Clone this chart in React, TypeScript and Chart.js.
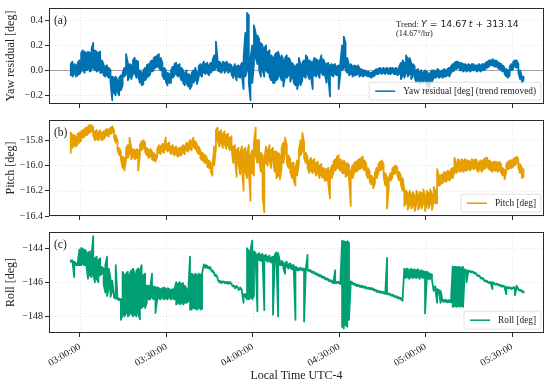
import { useEffect, useRef } from 'react';
import { Chart, registerables } from 'chart.js';

Chart.register(...registerables);

// ---- data ----
// every SAMPLE_STEP minutes (starting SAMPLE_START minutes after 03:00:00) the
// recorded signal's lower and upper envelope within that interval
const SAMPLE_START = -3.2;
const SAMPLE_STEP = 0.6;
const xTickMinutes = [180, 210, 240, 270, 300, 330]; // minutes since midnight
const yawTicks = [-0.2, 0, 0.2, 0.4];
const pitchTicks = [-16.4, -16.2, -16.0, -15.8];
const rollTicks = [-148, -146, -144];

const yawLow = [
  -0.04, -0.05, -0.03, -0.05, -0.04, -0.03, -0.01, 0.0, -0.02, 0.0,
  0.01, -0.01, 0.0, 0.02, 0.0, -0.01, 0.0, -0.02, -0.02, -0.04,
  -0.05, -0.04, -0.06, -0.1, -0.24, -0.18, -0.2, -0.17, -0.2, -0.16,
  -0.12, -0.05, -0.03, -0.08, -0.05, -0.07, -0.03, -0.02, -0.06, -0.05,
  -0.1, -0.12, -0.11, -0.08, -0.06, -0.05, -0.03, -0.01, 0.0, 0.02,
  0.03, 0.02, 0.0, -0.04, -0.07, -0.09, -0.12, -0.1, -0.1, -0.06,
  -0.04, -0.03, -0.05, -0.04, -0.08, -0.1, -0.12, -0.1, -0.13, -0.15,
  -0.12, -0.1, -0.08, -0.11, -0.06, -0.04, -0.05, -0.02, -0.03, -0.02,
  -0.04, -0.02, 0.0, 0.0, 0.02, 0.0, -0.01, -0.02, 0.0, -0.02,
  0.0, -0.02, -0.01, -0.03, -0.06, -0.04, -0.08, -0.05, -0.06, -0.04,
  -0.15, -0.05, 0.0, -0.1, -0.24, -0.1, 0.05, 0.1, 0.05, 0.0,
  -0.05, 0.0, -0.05, 0.0, -0.02, -0.05, -0.08, -0.1, -0.1, -0.08,
  -0.06, -0.04, -0.08, -0.13, -0.05, -0.06, -0.04, -0.09, -0.06, -0.1,
  -0.12, -0.15, -0.1, -0.12, -0.08, -0.05, -0.06, -0.03, -0.07, -0.05,
  -0.15, -0.04, -0.05, -0.03, -0.06, -0.02, -0.04, -0.03, -0.1, -0.05,
  -0.21, -0.04, -0.05, -0.03, -0.04, -0.15, -0.03, 0.0, 0.02, 0.0,
  -0.02, -0.04, -0.03, -0.05, -0.04, -0.04, -0.03, -0.05, -0.04, -0.05,
  -0.04, -0.04, -0.05, -0.05, -0.06, -0.05, -0.04, -0.03, -0.03, -0.02,
  -0.03, -0.02, -0.03, -0.02, -0.03, -0.03, -0.02, -0.03, -0.03, -0.04,
  -0.03, -0.07, -0.04, -0.06, -0.02, -0.05, -0.03, -0.07, -0.04, -0.06,
  -0.1, -0.08, -0.11, -0.09, -0.1, -0.08, -0.12, -0.15, -0.1, -0.09,
  -0.06, -0.06, -0.05, -0.06, -0.05, -0.06, -0.05, -0.05, -0.04, -0.05,
  -0.02, -0.01, 0.0, 0.01, 0.02, 0.0, 0.0, -0.01, 0.0, -0.01,
  0.0, -0.01, 0.0, 0.0, 0.0, -0.01, 0.0, -0.01, 0.0, 0.0,
  0.01, 0.02, 0.03, 0.04, 0.04, 0.03, 0.03, 0.02, 0.01, 0.0,
  -0.01, -0.03, -0.05, -0.06, -0.04, 0.0, 0.01, 0.03, 0.02, -0.02,
  -0.07, -0.1, -0.08,
];
const yawHigh = [
  0.05, 0.07, 0.05, 0.04, 0.06, 0.08, 0.14, 0.16, 0.15, 0.14,
  0.15, 0.14, 0.17, 0.22, 0.16, 0.15, 0.14, 0.15, 0.08, 0.05,
  0.03, 0.04, 0.02, 0.0, -0.05, -0.06, -0.05, -0.08, -0.06, -0.04,
  -0.02, 0.02, 0.13, 0.06, 0.05, 0.04, 0.08, 0.1, 0.08, 0.07,
  0.0, -0.02, 0.0, 0.02, 0.04, 0.05, 0.07, 0.08, 0.1, 0.11,
  0.12, 0.13, 0.1, 0.06, 0.02, 0.0, -0.02, -0.03, 0.0, 0.03,
  0.05, 0.06, 0.04, 0.05, 0.02, 0.0, -0.02, 0.0, -0.03, -0.04,
  -0.02, 0.0, 0.02, -0.02, 0.03, 0.05, 0.04, 0.07, 0.05, 0.06,
  0.04, 0.06, 0.08, 0.12, 0.23, 0.08, 0.07, 0.05, 0.07, 0.06,
  0.07, 0.05, 0.05, 0.04, 0.02, 0.05, 0.03, 0.04, 0.03, 0.06,
  0.1, 0.3, 0.46, 0.44, 0.1, 0.2, 0.36, 0.3, 0.28, 0.25,
  0.22, 0.2, 0.18, 0.2, 0.15, 0.16, 0.12, 0.1, 0.12, 0.14,
  0.15, 0.1, 0.12, 0.08, 0.1, 0.12, 0.1, 0.08, 0.06, 0.04,
  0.03, 0.05, 0.1, 0.04, 0.06, 0.08, 0.12, 0.1, 0.08, 0.07,
  0.06, 0.1, 0.09, 0.08, 0.07, 0.12, 0.09, 0.06, 0.05, 0.06,
  0.04, 0.05, 0.04, 0.05, 0.03, 0.04, 0.06, 0.2, 0.27, 0.22,
  0.1, 0.04, 0.05, 0.03, 0.04, 0.03, 0.04, 0.02, 0.01, 0.0,
  0.0, -0.01, -0.01, -0.02, -0.02, -0.01, 0.0, 0.01, 0.01, 0.02,
  0.01, 0.02, 0.01, 0.02, 0.01, 0.02, 0.02, 0.01, 0.02, 0.01,
  0.03, 0.06, 0.08, 0.06, 0.12, 0.09, 0.1, 0.06, 0.05, 0.03,
  0.0, 0.01, -0.01, 0.0, -0.02, 0.0, -0.01, -0.03, -0.02, 0.0,
  0.0, -0.01, 0.01, 0.0, -0.01, 0.0, 0.01, 0.0, 0.01, 0.02,
  0.03, 0.05, 0.06, 0.07, 0.07, 0.06, 0.06, 0.05, 0.05, 0.04,
  0.05, 0.04, 0.05, 0.05, 0.04, 0.04, 0.05, 0.04, 0.05, 0.05,
  0.06, 0.07, 0.08, 0.08, 0.09, 0.08, 0.08, 0.07, 0.06, 0.05,
  0.04, 0.02, 0.01, 0.0, 0.03, 0.05, 0.07, 0.08, 0.08, 0.05,
  0.0, -0.05, -0.05,
];

const pitchLow = [
  -15.90, -15.86, -15.84, -15.85, -15.83, -15.82, -15.80, -15.78, -15.77, -15.76,
  -15.75, -15.74, -15.73, -15.76, -15.80, -15.79, -15.80, -15.78, -15.80, -15.79,
  -15.77, -15.76, -15.77, -15.75, -15.74, -15.78, -15.82, -15.87, -15.92, -15.95,
  -16.02, -16.04, -15.95, -15.94, -15.90, -15.95, -15.93, -15.95, -15.94, -16.04,
  -15.92, -15.88, -15.86, -15.89, -15.92, -15.94, -15.93, -15.95, -15.96, -15.97,
  -15.93, -15.90, -15.91, -15.89, -15.90, -15.87, -15.89, -15.88, -15.91, -15.90,
  -15.92, -15.91, -15.93, -15.92, -15.92, -15.90, -15.91, -15.88, -15.89, -15.87,
  -15.88, -15.85, -15.87, -15.89, -15.91, -15.94, -15.96, -15.97, -15.98, -16.01,
  -16.02, -16.05, -16.08, -16.00, -15.86, -15.80, -15.85, -15.82, -15.86, -15.83,
  -15.87, -15.84, -15.88, -15.86, -15.98, -15.95, -16.09, -15.98, -16.07, -16.02,
  -16.20, -16.05, -16.10, -16.04, -16.28, -16.06, -16.08, -15.92, -15.98, -15.96,
  -16.05, -16.25, -16.37, -15.98, -16.00, -15.96, -16.02, -15.96, -16.05, -16.10,
  -16.08, -16.11, -16.02, -15.98, -15.90, -15.98, -16.02, -16.05, -16.10, -16.12,
  -16.16, -16.08, -15.98, -15.92, -15.88, -15.94, -15.98, -16.02, -16.06, -16.04,
  -16.06, -16.04, -16.08, -16.06, -16.10, -16.08, -16.10, -16.12, -16.12, -16.14,
  -16.26, -16.10, -16.06, -16.04, -16.02, -16.02, -16.04, -16.06, -16.06, -16.09,
  -16.08, -16.10, -16.32, -16.10, -16.06, -16.05, -16.04, -16.03, -16.02, -16.02,
  -16.04, -16.07, -16.10, -16.13, -16.15, -16.18, -16.14, -16.10, -16.06, -16.04,
  -16.03, -16.08, -16.16, -16.34, -16.18, -16.12, -16.10, -16.07, -16.06, -16.08,
  -16.12, -16.15, -16.20, -16.32, -16.30, -16.35, -16.31, -16.34, -16.32, -16.36,
  -16.30, -16.35, -16.32, -16.34, -16.30, -16.36, -16.31, -16.34, -16.30, -16.35,
  -16.28, -16.30, -16.30, -16.16, -16.15, -16.14, -16.12, -16.13, -16.11, -16.12,
  -16.10, -16.10, -16.05, -16.06, -16.04, -16.05, -16.04, -16.05, -16.04, -16.04,
  -16.03, -16.04, -16.02, -16.03, -16.02, -16.04, -16.05, -16.03, -16.05, -16.03,
  -16.02, -16.01, -16.03, -16.04, -16.05, -16.04, -16.04, -16.05, -16.04, -16.06,
  -16.08, -16.11, -16.05, -16.03, -16.02, -16.02, -16.01, -16.00, -15.98, -16.02,
  -16.06, -16.10, -16.09,
];
const pitchHigh = [
  -15.74, -15.76, -15.76, -15.77, -15.75, -15.74, -15.73, -15.72, -15.71, -15.70,
  -15.69, -15.68, -15.68, -15.70, -15.73, -15.72, -15.74, -15.72, -15.74, -15.73,
  -15.72, -15.71, -15.72, -15.70, -15.69, -15.72, -15.76, -15.80, -15.86, -15.89,
  -15.93, -15.94, -15.86, -15.84, -15.78, -15.86, -15.87, -15.88, -15.87, -15.88,
  -15.84, -15.81, -15.80, -15.82, -15.86, -15.88, -15.87, -15.89, -15.90, -15.92,
  -15.87, -15.84, -15.85, -15.83, -15.84, -15.78, -15.83, -15.82, -15.85, -15.84,
  -15.86, -15.85, -15.87, -15.86, -15.86, -15.84, -15.85, -15.82, -15.83, -15.80,
  -15.81, -15.78, -15.81, -15.83, -15.85, -15.88, -15.90, -15.91, -15.92, -15.95,
  -15.96, -15.98, -16.00, -15.85, -15.72, -15.70, -15.74, -15.72, -15.75, -15.73,
  -15.76, -15.75, -15.78, -15.77, -15.85, -15.84, -15.88, -15.86, -15.90, -15.85,
  -15.88, -15.86, -15.90, -15.84, -15.92, -15.88, -15.82, -15.70, -15.80, -15.80,
  -15.90, -15.92, -15.95, -15.85, -15.88, -15.84, -15.88, -15.86, -15.89, -15.89,
  -15.90, -15.92, -15.86, -15.82, -15.78, -15.84, -15.92, -15.95, -15.98, -15.98,
  -16.02, -15.96, -15.88, -15.80, -15.74, -15.82, -15.90, -15.93, -15.96, -15.94,
  -15.96, -15.95, -15.98, -15.97, -16.00, -15.99, -16.02, -16.03, -16.03, -16.02,
  -16.05, -16.00, -15.97, -15.95, -15.93, -15.92, -15.95, -15.97, -15.96, -15.99,
  -15.98, -16.00, -16.05, -16.00, -15.98, -15.97, -15.96, -15.95, -15.94, -15.93,
  -15.96, -15.99, -16.02, -16.05, -16.08, -16.10, -16.06, -16.02, -15.99, -15.97,
  -15.96, -15.99, -16.06, -16.10, -16.10, -16.06, -16.03, -16.01, -16.00, -16.02,
  -16.05, -16.08, -16.10, -16.19, -16.20, -16.22, -16.20, -16.23, -16.21, -16.24,
  -16.20, -16.23, -16.21, -16.22, -16.19, -16.24, -16.20, -16.22, -16.19, -16.23,
  -16.17, -16.20, -16.03, -16.08, -16.08, -16.07, -16.05, -16.06, -16.04, -16.05,
  -16.03, -16.02, -15.94, -15.98, -15.95, -15.97, -15.95, -15.96, -15.95, -15.96,
  -15.96, -15.97, -15.95, -15.96, -15.95, -15.96, -15.98, -15.96, -15.97, -15.95,
  -15.94, -15.94, -15.96, -15.97, -15.98, -15.97, -15.97, -15.98, -15.97, -15.99,
  -16.02, -16.04, -15.99, -15.97, -15.96, -15.96, -15.95, -15.94, -15.93, -15.95,
  -15.99, -16.02, -16.03,
];

const rollLow = [
  -144.80, -144.80, -145.70, -145.00, -145.00, -145.00, -145.00, -144.95, -145.00, -145.00,
  -145.80, -145.60, -145.70, -145.50, -146.00, -145.80, -146.00, -145.60, -145.50, -146.10,
  -146.60, -146.80, -146.40, -146.85, -146.50, -146.90, -146.95, -147.00, -147.05, -148.20,
  -147.90, -148.00, -147.80, -148.00, -147.90, -147.80, -148.00, -147.90, -148.00, -147.80,
  -148.17, -147.50, -147.40, -147.50, -147.20, -147.00, -147.00, -146.90, -147.00, -147.80,
  -147.00, -146.95, -147.00, -146.90, -147.00, -146.95, -147.00, -146.90, -147.00, -146.95,
  -147.00, -147.30, -147.20, -147.30, -147.20, -147.30, -147.20, -147.20, -147.10, -147.60,
  -147.60, -147.50, -147.55, -147.60, -147.50, -147.60, -147.55, -145.10, -145.15, -145.15,
  -145.20, -145.25, -145.40, -145.55, -145.65, -145.85, -146.00, -146.05, -146.00, -146.05,
  -146.05, -146.10, -146.05, -146.15, -146.25, -146.35, -146.30, -146.45, -146.40, -146.55,
  -147.20, -146.85, -147.00, -147.00, -146.90, -147.00, -146.80, -144.80, -147.70, -144.70,
  -144.75, -144.70, -147.63, -144.70, -144.80, -144.75, -144.85, -147.90, -144.80, -144.60,
  -148.00, -145.00, -145.00, -145.20, -145.50, -145.10, -145.20, -145.15, -145.25, -145.20,
  -148.20, -145.30, -145.30, -145.25, -145.30, -148.30, -145.35, -145.30, -145.35, -145.40,
  -145.45, -145.50, -145.55, -145.60, -145.65, -145.70, -145.75, -145.80, -145.85, -145.90,
  -145.95, -146.00, -146.05, -146.05, -146.05, -146.05, -146.10, -148.60, -148.70, -148.50,
  -148.60, -148.20, -146.05, -146.10, -146.15, -146.20, -146.22, -146.25, -146.28, -146.30,
  -146.33, -146.36, -146.38, -146.40, -146.42, -146.45, -146.50, -146.55, -146.58, -146.60,
  -146.62, -146.65, -146.68, -146.70, -146.72, -146.76, -146.80, -146.84, -146.88, -146.92,
  -146.96, -147.00, -147.08, -145.70, -145.75, -145.70, -145.80, -145.70, -145.75, -145.70,
  -145.75, -145.70, -145.80, -145.70, -145.75, -147.83, -145.75, -145.80, -145.80, -145.85,
  -146.50, -146.45, -147.20, -146.60, -147.20, -147.10, -147.15, -147.12, -147.18, -147.15,
  -147.18, -147.44, -147.40, -147.44, -147.40, -147.42, -147.40, -147.44, -145.40, -146.00,
  -145.38, -145.40, -145.42, -145.45, -145.50, -145.60, -145.65, -145.75, -145.80, -145.88,
  -145.95, -146.00, -146.05, -146.05, -146.40, -146.10, -146.15, -146.15, -146.20, -146.25,
  -146.25, -146.30, -146.70, -146.35, -146.35, -146.40, -146.35, -146.76, -146.30, -146.45,
  -146.50, -146.55, -146.60,
];
const rollHigh = [
  -144.72, -144.72, -144.80, -144.90, -144.88, -144.10, -144.00, -144.05, -144.10, -144.20,
  -144.30, -144.20, -144.40, -143.30, -144.60, -144.50, -144.70, -144.60, -145.10, -145.20,
  -145.00, -144.50, -145.20, -145.80, -145.90, -146.80, -145.00, -146.85, -146.95, -147.00,
  -145.40, -145.60, -145.50, -145.40, -145.60, -145.30, -145.20, -145.50, -145.30, -145.20,
  -145.30, -145.00, -145.60, -145.50, -146.20, -146.20, -146.30, -145.50, -146.25, -146.30,
  -146.30, -146.35, -146.40, -146.35, -146.30, -146.40, -146.35, -146.40, -146.45, -146.40,
  -146.40, -146.00, -146.10, -146.00, -146.10, -146.05, -146.20, -146.40, -146.45, -144.50,
  -145.50, -145.60, -145.50, -145.60, -145.50, -145.55, -145.50, -144.95, -145.00, -145.05,
  -145.10, -145.15, -145.30, -145.45, -145.55, -145.75, -145.92, -145.95, -145.95, -145.98,
  -145.98, -146.00, -145.98, -146.08, -146.18, -146.25, -146.22, -146.35, -146.30, -146.45,
  -146.70, -146.70, -144.00, -144.20, -144.10, -143.57, -144.20, -144.30, -144.40, -144.30,
  -144.40, -144.35, -144.45, -144.40, -144.50, -144.45, -144.55, -144.50, -144.40, -144.25,
  -144.30, -144.80, -144.75, -144.85, -144.90, -144.80, -144.95, -144.90, -145.00, -145.00,
  -145.10, -145.15, -145.20, -145.15, -145.20, -145.20, -145.25, -144.40, -145.28, -145.32,
  -145.37, -145.42, -145.47, -145.52, -145.57, -145.62, -145.67, -145.72, -145.77, -145.82,
  -145.87, -145.92, -145.97, -145.30, -145.98, -145.98, -146.00, -143.57, -143.60, -143.65,
  -143.60, -143.70, -145.95, -146.02, -146.07, -146.12, -146.15, -146.18, -146.20, -146.23,
  -146.26, -146.29, -146.31, -146.33, -146.35, -146.38, -146.43, -146.48, -146.51, -146.53,
  -146.55, -146.58, -146.60, -144.58, -146.65, -146.69, -146.73, -146.77, -146.81, -146.85,
  -146.89, -146.93, -147.00, -145.20, -145.25, -145.20, -145.30, -145.22, -145.28, -145.25,
  -145.30, -145.25, -145.35, -145.30, -145.35, -145.40, -145.38, -145.45, -145.50, -145.55,
  -146.30, -146.25, -146.40, -146.45, -146.50, -147.00, -147.05, -147.02, -147.08, -147.05,
  -147.08, -145.08, -145.10, -145.10, -145.12, -145.10, -145.15, -145.10, -145.25, -145.30,
  -145.32, -145.34, -145.36, -145.39, -145.44, -145.54, -145.59, -145.69, -145.74, -145.82,
  -145.89, -145.94, -145.99, -145.99, -146.00, -146.04, -146.09, -146.09, -146.14, -146.19,
  -146.19, -146.24, -146.28, -146.29, -146.29, -146.34, -146.29, -146.32, -146.20, -146.39,
  -146.44, -146.49, -146.54,
];

const X_TITLE = 'Local Time UTC-4';
const TREND_PREFIX = 'Trend: ';
const TREND_SLOPE = '14.67';
const TREND_OFFSET = '313.14';
const TREND_RATE = '(14.67\u00B0/hr)';

// ---- styling ----
const X_MIN = 169.24;
const X_MAX = 341.1;
const SERIF = "'Liberation Serif', 'Times New Roman', serif";
const SANS = "'DejaVu Sans', sans-serif";
const INK = '#222222';
const FRAME = '#2a2a2a';

type Panel = {
  low: number[];
  high: number[];
  color: string;
  yMin: number;
  yMax: number;
  yTicks: number[];
  decimals: number;
  yTitle: string;
  legend: string;
  tag: string;
  top: number;
  height: number;
  padTop: number;
  xAxisHeight: number;
  showX: boolean;
  zeroLine?: boolean;
  trend?: boolean;
};

const panels: Panel[] = [
  {
    low: yawLow, high: yawHigh, color: '#0072B2', yMin: -0.27, yMax: 0.5, yTicks: yawTicks, decimals: 1,
    yTitle: 'Yaw residual [deg]', legend: 'Yaw residual [deg] (trend removed)', tag: '(a)',
    top: 0, height: 112, padTop: 4, xAxisHeight: 5, showX: false, zeroLine: true, trend: true,
  },
  {
    low: pitchLow, high: pitchHigh, color: '#E69F00', yMin: -16.4, yMax: -15.64, yTicks: pitchTicks, decimals: 1,
    yTitle: 'Pitch [deg]', legend: 'Pitch [deg]', tag: '(b)',
    top: 112, height: 112, padTop: 4, xAxisHeight: 5, showX: false,
  },
  {
    low: rollLow, high: rollHigh, color: '#009E73', yMin: -148.97, yMax: -143.06, yTicks: rollTicks, decimals: 0,
    yTitle: 'Roll [deg]', legend: 'Roll [deg]', tag: '(c)',
    top: 224, height: 160, padTop: 7, xAxisHeight: 51, showX: true,
  },
];

const minus = (s: string) => s.replace('-', '\u2212');
const clock = (m: number) => {
  const h = Math.floor(m / 60);
  const mm = Math.round(m - h * 60);
  return `${String(h).padStart(2, '0')}:${String(mm).padStart(2, '0')}:00`;
};

// the trace alternates between the low and high envelope at each sample time
function tracePoints(low: number[], high: number[]) {
  const pts: { x: number; y: number }[] = [];
  low.forEach((lo, i) => {
    const x = 180 + SAMPLE_START + SAMPLE_STEP * i;
    const hi = high[i];
    if (i % 2 === 0) {
      pts.push({ x, y: lo }, { x, y: hi });
    } else {
      pts.push({ x, y: hi }, { x, y: lo });
    }
  });
  return pts;
}

function decor(p: Panel) {
  return {
    id: 'decor',
    beforeDatasetsDraw(chart: any) {
      const { ctx, chartArea: a, scales } = chart;
      ctx.save();
      ctx.strokeStyle = 'rgba(0,0,0,0.14)';
      ctx.lineWidth = 0.7;
      ctx.setLineDash([1, 2]);
      for (const t of xTickMinutes) {
        const px = Math.round(scales.x.getPixelForValue(t)) + 0.5;
        ctx.beginPath(); ctx.moveTo(px, a.top); ctx.lineTo(px, a.bottom); ctx.stroke();
      }
      for (const t of p.yTicks) {
        const py = Math.round(scales.y.getPixelForValue(t)) + 0.5;
        ctx.beginPath(); ctx.moveTo(a.left, py); ctx.lineTo(a.right, py); ctx.stroke();
      }
      ctx.setLineDash([]);
      if (p.zeroLine) {
        const py = Math.round(scales.y.getPixelForValue(0)) + 0.5;
        ctx.strokeStyle = 'rgba(120,120,120,0.75)';
        ctx.lineWidth = 0.9;
        ctx.beginPath(); ctx.moveTo(a.left, py); ctx.lineTo(a.right, py); ctx.stroke();
      }
      ctx.restore();
    },
    afterDatasetsDraw(chart: any) {
      const { ctx, chartArea: a } = chart;
      ctx.save();
      ctx.strokeStyle = FRAME;
      ctx.lineWidth = 1;
      ctx.strokeRect(a.left + 0.5, a.top + 0.5, a.right - a.left - 1, a.bottom - a.top - 1);

      ctx.font = `9.3px ${SERIF}`;
      const tw = ctx.measureText(p.legend).width;
      const boxRight = a.right - 3;
      const textX = boxRight - 5 - tw;
      const lineEnd = textX - 8;
      const lineStart = lineEnd - 20;
      const boxLeft = lineStart - 6;
      const cy = a.bottom - 12.8;
      ctx.fillStyle = 'rgba(255,255,255,0.8)';
      ctx.strokeStyle = 'rgba(210,210,210,0.8)';
      ctx.lineWidth = 0.8;
      ctx.beginPath();
      (ctx as any).roundRect(boxLeft, cy - 9, boxRight - boxLeft, 18, 2);
      ctx.fill();
      ctx.stroke();
      ctx.strokeStyle = p.color;
      ctx.lineWidth = 1.5;
      ctx.beginPath(); ctx.moveTo(lineStart, cy); ctx.lineTo(lineEnd, cy); ctx.stroke();
      ctx.fillStyle = INK;
      ctx.textBaseline = 'middle';
      ctx.textAlign = 'left';
      ctx.fillText(p.legend, textX, cy + 0.5);

      ctx.font = `11.5px ${SERIF}`;
      ctx.fillText(p.tag, a.left + 5, a.top + 13);

      if (p.trend) {
        ctx.textBaseline = 'alphabetic';
        let tx = a.right - 148;
        const ty = a.top + 19.3;
        const parts: [string, string][] = [
          [`8.7px ${SERIF}`, TREND_PREFIX],
          [`italic 9.3px ${SANS}`, 'Y'],
          [`9.3px ${SANS}`, ` = ${TREND_SLOPE}\u2009`],
          [`italic 9.3px ${SANS}`, 't'],
          [`9.3px ${SANS}`, ` + ${TREND_OFFSET}`],
        ];
        for (const [f, s] of parts) {
          ctx.font = f;
          ctx.fillText(s, tx, ty);
          tx += ctx.measureText(s).width;
        }
        ctx.font = `8.3px ${SERIF}`;
        ctx.fillText(TREND_RATE, a.right - 148, a.top + 27.5);
      }
      ctx.restore();
    },
  };
}

function buildConfig(p: Panel): any {
  const tickGrid = {
    drawOnChartArea: false,
    drawTicks: true,
    tickLength: 4,
    tickColor: FRAME,
    tickWidth: 1,
  };
  return {
    type: 'line',
    data: {
      datasets: [
        {
          data: tracePoints(p.low, p.high),
          borderColor: p.color,
          borderWidth: 1.8,
          borderJoinStyle: 'round',
          borderCapStyle: 'round',
          pointRadius: 0,
          tension: 0,
          fill: false,
        },
      ],
    },
    options: {
      animation: false,
      responsive: false,
      events: [],
      layout: { padding: { left: 0, right: 6, top: p.padTop, bottom: 0 } },
      plugins: { legend: { display: false }, tooltip: { enabled: false } },
      scales: {
        x: {
          type: 'linear',
          min: X_MIN,
          max: X_MAX,
          afterBuildTicks: (s: any) => { s.ticks = xTickMinutes.map((v) => ({ value: v })); },
          afterFit: (s: any) => { s.height = p.xAxisHeight; },
          grid: tickGrid,
          border: { display: false },
          ticks: {
            display: p.showX,
            minRotation: 30,
            maxRotation: 30,
            autoSkip: false,
            padding: 4,
            color: INK,
            font: { family: SERIF, size: 10 },
            callback: (v: number) => clock(v),
          },
          title: {
            display: p.showX,
            text: X_TITLE,
            color: INK,
            font: { family: SERIF, size: 12 },
            padding: { top: 0, bottom: 1 },
          },
        },
        y: {
          type: 'linear',
          min: p.yMin,
          max: p.yMax,
          afterBuildTicks: (s: any) => { s.ticks = p.yTicks.map((v) => ({ value: v })); },
          afterFit: (s: any) => { s.width = 49; },
          grid: tickGrid,
          border: { display: false },
          ticks: {
            padding: 2,
            color: INK,
            font: { family: SERIF, size: 10 },
            callback: (v: number) => minus(Number(v).toFixed(p.decimals)),
          },
          title: {
            display: true,
            text: p.yTitle,
            color: INK,
            font: { family: SERIF, size: 12 },
            padding: { top: 4, bottom: 0 },
          },
        },
      },
    },
    plugins: [decor(p)],
  };
}

export default function App() {
  const r0 = useRef<HTMLCanvasElement>(null);
  const r1 = useRef<HTMLCanvasElement>(null);
  const r2 = useRef<HTMLCanvasElement>(null);
  const refs = [r0, r1, r2];

  useEffect(() => {
    const charts = panels.map((p, i) => new Chart(refs[i].current as HTMLCanvasElement, buildConfig(p)));
    return () => charts.forEach((c) => c.destroy());
  }, []);

  return (
    <div style={{ position: 'absolute', left: 0, top: 0, width: 550, height: 384, background: '#fff' }}>
      {panels.map((p, i) => (
        <canvas
          key={i}
          ref={refs[i]}
          width={550}
          height={p.height}
          style={{ position: 'absolute', left: 0, top: p.top, width: 550, height: p.height }}
        />
      ))}
    </div>
  );
}
